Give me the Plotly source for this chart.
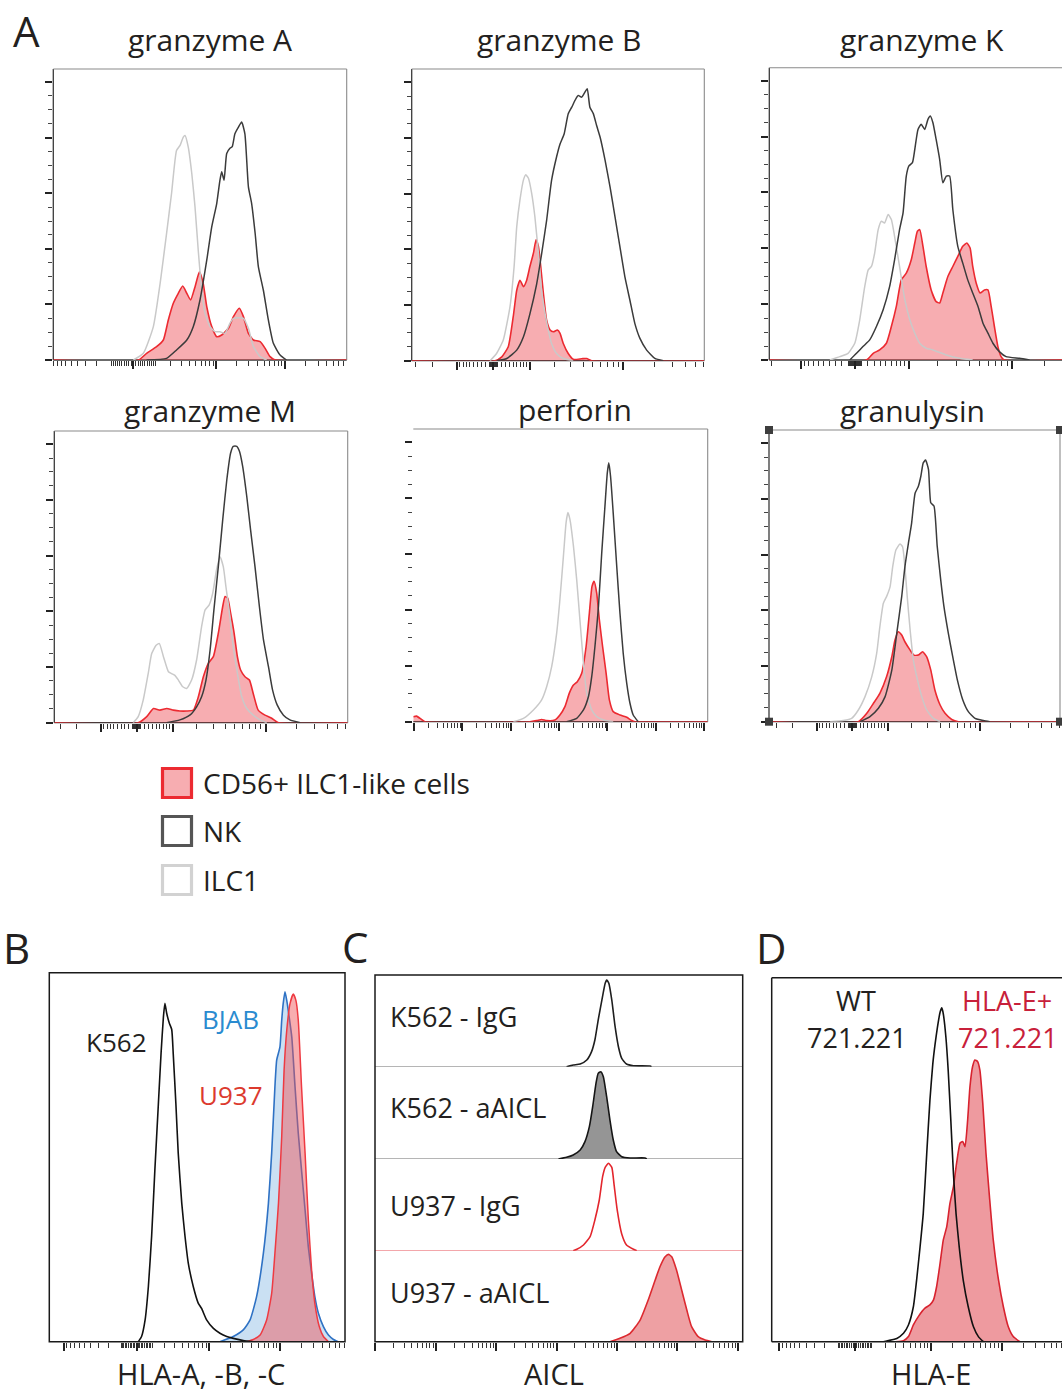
import numpy as np
import plotly.graph_objects as go

W, H = 1062, 1394
FONT = "Open Sans"
TXT = "#231f20"

# ---------------- DATA ----------------
# Panel A: x = display channel (0-100 across plot), y = % of mode
titles_A = ["granzyme A", "granzyme B", "granzyme K", "granzyme M", "perforin", "granulysin"]
legend_labels = ["CD56+ ILC1-like cells", "NK", "ILC1"]

gzmA_ilc1_x = [27.3, 30.7, 34.1, 36.4, 38.6, 40.3, 42.0, 43.2, 44.3, 44.9, 46.0, 47.2, 48.3, 49.4, 50.6, 51.7, 53.4, 55.1, 56.8, 58.5, 60.2, 61.4, 64.8, 66.5, 68.2, 70.5, 72.7]
gzmA_ilc1_y = [0, 2.4, 12.0, 27.5, 45.5, 59.9, 75.4, 77.2, 80.2, 80.8, 76.6, 67.1, 55.1, 39.5, 25.1, 16.8, 12.0, 10.2, 10.2, 9.6, 13.2, 15.0, 15.0, 11.4, 4.8, 1.2, 0]
gzmA_nk_x = [31.8, 38.6, 42.0, 45.5, 47.7, 50.0, 52.3, 54.0, 55.7, 56.8, 57.4, 58.2, 59.1, 60.2, 61.0, 61.9, 63.1, 64.2, 65.3, 66.5, 67.6, 68.8, 69.9, 71.6, 73.3, 75.0, 77.3, 79.5]
gzmA_nk_y = [0, 0.6, 3.6, 7.2, 12.0, 21.6, 35.9, 47.9, 56.3, 64.7, 67.7, 64.7, 74.3, 76.2, 76.8, 81.4, 83.8, 85.6, 81.4, 62.3, 56.3, 45.5, 33.5, 25.1, 14.4, 6.0, 1.8, 0]
gzmA_cd56_x = [29.0, 31.8, 35.2, 37.5, 39.2, 40.9, 42.6, 44.1, 45.5, 46.8, 48.3, 49.8, 51.1, 52.3, 54.0, 55.7, 57.4, 59.7, 61.4, 63.4, 64.8, 66.5, 68.2, 70.5, 72.2, 73.9, 75.6]
gzmA_cd56_y = [0, 2.4, 4.8, 7.2, 14.4, 20.4, 24.0, 26.6, 24.0, 21.6, 26.3, 31.7, 27.5, 19.2, 12.0, 8.4, 9.0, 11.4, 15.6, 18.6, 15.6, 9.6, 7.2, 6.6, 4.2, 1.2, 0]

gzmB_ilc1_x = [26.8, 29.0, 31.3, 33.6, 35.0, 35.9, 37.0, 38.2, 39.0, 39.9, 41.0, 42.1, 43.3, 44.4, 45.6, 46.7, 47.8, 49.5, 51.8, 55.2]
gzmB_ilc1_y = [0, 2.6, 7.4, 19.4, 33.8, 48.1, 57.7, 64.9, 66.7, 65.5, 60.1, 51.7, 38.5, 25.3, 16.8, 10.8, 6.2, 2.6, 0.8, 0]
gzmB_nk_x = [29.0, 32.5, 35.9, 38.2, 40.4, 42.7, 44.4, 46.1, 47.8, 49.5, 50.7, 52.1, 53.5, 54.7, 55.8, 56.9, 58.1, 59.2, 60.0, 60.9, 62.1, 63.2, 64.4, 66.1, 67.8, 69.5, 71.2, 72.9, 74.6, 76.3, 78.0, 80.3, 83.1, 86.0]
gzmB_nk_y = [0, 0.8, 3.8, 8.6, 16.8, 27.5, 38.3, 50.3, 64.7, 73.1, 77.8, 81.4, 88.6, 91.0, 93.4, 95.2, 94.6, 96.4, 97.6, 91.0, 88.6, 84.4, 80.2, 71.9, 62.3, 51.5, 40.7, 29.9, 21.6, 13.2, 8.0, 3.8, 0.8, 0]
gzmB_cd56_x = [28.5, 30.8, 33.0, 34.7, 35.9, 37.0, 38.2, 39.3, 40.4, 41.6, 42.5, 43.3, 44.1, 45.0, 46.1, 47.3, 48.4, 49.8, 50.7, 51.8, 53.5, 55.2, 58.1, 59.8, 61.5]
gzmB_cd56_y = [0, 1.4, 5.0, 15.8, 25.3, 28.9, 26.6, 28.9, 33.8, 38.6, 43.4, 41.0, 33.8, 24.2, 14.6, 11.0, 10.4, 11.0, 9.8, 6.2, 2.6, 0.5, 0.7, 0.8, 0]

gzmK_ilc1_x = [20.7, 24.1, 26.9, 29.2, 30.9, 32.6, 33.8, 34.9, 36.0, 37.2, 38.3, 39.4, 40.6, 41.7, 42.8, 44.5, 46.3, 48.0, 49.7, 51.4, 53.6, 55.9, 60.5, 65.0, 69.5]
gzmK_ilc1_y = [0, 1.2, 2.4, 6.0, 14.4, 26.3, 32.3, 33.5, 38.3, 46.7, 49.7, 49.1, 52.1, 50.3, 44.3, 33.5, 21.6, 14.4, 9.6, 6.0, 4.2, 3.6, 1.8, 0.6, 0]
gzmK_nk_x = [27.5, 29.8, 32.0, 34.3, 36.6, 38.9, 41.1, 42.8, 44.5, 45.7, 46.8, 47.7, 48.9, 49.7, 50.8, 51.9, 53.1, 54.2, 55.0, 55.9, 57.0, 58.2, 59.3, 60.5, 61.6, 62.7, 64.4, 66.1, 67.8, 69.5, 71.3, 73.0, 74.7, 76.4, 78.6, 80.9, 85.5, 88.9]
gzmK_nk_y = [0, 2.4, 4.8, 7.2, 12.0, 18.0, 26.3, 35.9, 46.7, 52.7, 65.9, 69.5, 70.7, 75.4, 82.6, 84.4, 82.6, 86.2, 87.4, 85.0, 79.0, 71.9, 63.5, 65.9, 65.9, 53.9, 40.7, 34.7, 28.7, 24.0, 19.2, 13.2, 9.6, 6.0, 3.0, 1.2, 0.6, 0]
gzmK_cd56_x = [33.2, 35.5, 37.7, 40.0, 41.7, 43.4, 45.1, 46.8, 48.5, 49.7, 50.6, 51.4, 52.5, 53.6, 55.3, 57.0, 58.2, 59.3, 61.0, 62.7, 64.4, 66.1, 67.5, 68.6, 69.5, 70.7, 72.0, 73.5, 74.7, 75.8, 76.9, 78.1, 79.2, 80.3]
gzmK_cd56_y = [0, 2.4, 3.6, 6.0, 12.0, 19.2, 28.7, 31.1, 35.9, 41.9, 46.1, 46.7, 40.7, 33.5, 25.1, 20.9, 20.4, 24.0, 29.9, 33.5, 37.1, 40.7, 41.9, 40.1, 33.5, 27.5, 24.0, 25.1, 25.1, 19.2, 12.0, 4.8, 1.2, 0]

gzmM_ilc1_x = [26.9, 28.6, 30.3, 32.0, 33.2, 34.7, 35.8, 37.2, 38.9, 40.0, 41.1, 42.3, 43.8, 45.1, 46.8, 48.5, 50.2, 51.4, 52.8, 54.0, 55.3, 56.5, 57.6, 58.5, 59.7, 61.0, 62.4, 63.9, 65.6, 67.8, 70.1, 72.4]
gzmM_ilc1_y = [0, 2.2, 8.1, 17.6, 24.8, 27.8, 28.4, 23.7, 18.3, 17.6, 17.0, 15.3, 12.9, 12.3, 15.3, 22.5, 34.5, 40.5, 42.3, 46.5, 54.9, 59.6, 56.0, 48.8, 39.3, 27.3, 17.8, 9.3, 5.1, 2.7, 1.0, 0]
gzmM_nk_x = [38.3, 42.8, 46.3, 48.5, 50.2, 51.7, 53.1, 54.4, 55.9, 57.4, 58.8, 60.1, 61.0, 62.2, 63.1, 64.2, 65.6, 66.9, 68.4, 69.9, 71.3, 73.0, 74.4, 76.0, 78.1, 80.3, 83.8]
gzmM_nk_y = [0, 1.0, 2.8, 5.7, 9.3, 15.3, 26.1, 40.5, 56.0, 72.8, 87.2, 96.8, 99.2, 99.2, 97.4, 92.0, 81.2, 69.2, 56.0, 41.7, 29.7, 20.1, 11.7, 6.3, 2.7, 1.0, 0]
gzmM_cd56_x = [28.6, 31.5, 33.8, 36.0, 38.3, 40.6, 42.8, 45.1, 47.4, 49.1, 50.8, 52.5, 54.2, 55.9, 57.4, 58.2, 59.1, 60.1, 61.3, 62.4, 63.5, 65.0, 66.5, 67.8, 69.5, 71.8, 74.1, 76.4]
gzmM_cd56_y = [0, 2.2, 5.1, 4.5, 5.1, 4.5, 4.2, 4.2, 4.5, 9.3, 16.5, 21.3, 23.7, 32.1, 41.7, 45.3, 44.7, 39.3, 32.1, 23.7, 18.9, 16.5, 15.3, 10.5, 4.5, 2.7, 1.6, 0]

perf_ilc1_x = [34.0, 37.4, 40.8, 43.6, 45.3, 47.0, 48.7, 49.8, 51.0, 51.9, 52.5, 53.2, 54.4, 55.5, 56.6, 57.8, 58.9, 60.6, 62.3, 64.6, 67.9]
perf_ilc1_y = [0, 1.2, 4.2, 7.8, 12.5, 19.7, 31.7, 43.7, 59.3, 71.2, 74.8, 72.4, 62.8, 50.8, 36.4, 20.9, 10.2, 4.2, 1.8, 0.6, 0]
perf_nk_x = [52.1, 55.5, 57.8, 59.5, 60.6, 61.7, 62.9, 64.0, 65.1, 65.9, 66.4, 67.0, 67.9, 69.1, 70.2, 71.3, 72.5, 73.6, 74.7, 76.4]
perf_nk_y = [0, 1.2, 4.2, 9.0, 16.1, 26.9, 41.2, 60.3, 77.1, 89.0, 92.6, 87.8, 74.7, 55.6, 38.8, 24.5, 13.7, 6.6, 2.4, 0]
perf_cd56_x = [0, 1.1, 2.8, 4.0, 39.6, 41.9, 43.6, 45.3, 48.1, 49.8, 51.5, 53.0, 54.4, 55.7, 57.2, 58.7, 59.8, 60.7, 61.4, 62.3, 63.2, 64.3, 65.5, 66.6, 67.9, 70.2, 72.5, 74.2, 75.3]
perf_cd56_y = [1.8, 2.0, 0.8, 0, 0, 0.4, 0.8, 0.4, 0.6, 2.4, 5.4, 10.2, 13.1, 14.3, 17.3, 26.9, 38.8, 48.4, 50.2, 46.0, 36.4, 26.9, 17.3, 7.8, 3.6, 2.4, 1.6, 0.4, 0]

gnly_ilc1_x = [21.0, 25.5, 28.4, 30.7, 33.0, 35.3, 37.0, 38.1, 39.3, 40.4, 41.6, 42.5, 43.6, 45.0, 45.9, 46.7, 47.5, 48.5, 49.6, 51.0, 52.5, 54.2, 56.5, 58.8]
gnly_ilc1_y = [0, 0.4, 1.2, 4.2, 9.0, 16.1, 24.5, 34.1, 42.5, 44.9, 48.4, 55.6, 61.6, 63.8, 62.8, 55.6, 44.9, 32.9, 22.2, 15.1, 9.0, 4.2, 1.2, 0]
gnly_nk_x = [31.3, 34.7, 37.6, 39.9, 42.2, 43.9, 45.6, 46.7, 47.9, 49.0, 50.2, 51.3, 52.2, 53.0, 53.8, 54.8, 55.6, 56.7, 57.8, 59.0, 60.1, 61.6, 63.1, 64.7, 66.6, 68.5, 70.8, 73.7, 75.9]
gnly_nk_y = [0, 1.8, 4.8, 9.0, 18.5, 31.7, 44.9, 55.6, 64.0, 71.2, 82.0, 84.4, 88.2, 92.9, 93.9, 90.6, 78.6, 77.4, 63.0, 51.0, 41.5, 31.9, 23.5, 15.1, 7.8, 3.6, 1.2, 0.4, 0]
gnly_cd56_x = [30.7, 33.6, 35.9, 38.1, 40.4, 42.2, 43.3, 44.4, 45.6, 46.7, 48.5, 49.8, 51.3, 52.8, 54.2, 55.6, 57.0, 58.8, 60.5, 62.8, 65.1]
gnly_cd56_y = [0, 3.0, 6.6, 10.2, 16.1, 23.3, 29.3, 32.3, 31.1, 28.7, 25.7, 23.9, 23.9, 25.1, 23.3, 18.5, 11.4, 6.0, 3.0, 0.8, 0]

# Panel B: HLA-A,-B,-C (y = % of plot height)
B_k562_x = [30.1, 31.2, 32.4, 33.5, 34.6, 35.7, 36.9, 37.8, 38.6, 39.1, 39.7, 40.6, 41.4, 41.9, 42.8, 43.6, 44.8, 45.9, 47.0, 48.7, 50.4, 51.5, 53.2, 55.5, 57.7, 60.0, 62.2, 65.6, 69.0]
B_k562_y = [0, 1.4, 5.9, 14.9, 28.5, 46.5, 64.6, 78.2, 88.1, 91.7, 89.0, 86.3, 84.6, 78.2, 64.6, 51.1, 37.5, 28.5, 21.3, 14.9, 10.4, 9.0, 5.9, 3.6, 2.3, 1.4, 0.9, 0.3, 0]
B_bjab_x = [57.7, 62.2, 65.6, 67.9, 70.1, 72.4, 74.1, 75.2, 76.3, 76.9, 78.0, 78.6, 79.1, 79.7, 80.3, 80.8, 82.0, 83.1, 84.2, 85.3, 86.5, 87.6, 88.7, 89.8, 91.0, 92.7, 94.4, 96.1, 97.7]
B_bjab_y = [0, 1.4, 3.2, 5.9, 12.2, 24.0, 37.5, 51.1, 69.1, 76.3, 79.9, 87.1, 91.6, 94.8, 92.5, 89.8, 82.6, 69.1, 56.5, 46.5, 35.7, 25.7, 18.5, 12.2, 7.7, 4.1, 1.8, 0.6, 0]
B_u937_x = [66.7, 69.0, 71.3, 73.5, 75.2, 76.3, 77.5, 78.6, 79.4, 80.3, 81.4, 82.5, 83.4, 84.2, 85.3, 86.5, 87.6, 88.7, 89.8, 91.3, 92.7, 94.4]
B_u937_y = [0, 0.6, 1.8, 5.9, 13.1, 24.0, 37.5, 55.6, 73.6, 84.4, 91.6, 94.2, 92.5, 87.1, 69.1, 51.1, 33.1, 19.5, 10.4, 4.1, 1.4, 0]

# Panel C: AICL (y = % of row height)
C_labels = ["K562 - IgG", "K562 - aAICL", "U937 - IgG", "U937 - aAICL"]
C_k562_igg_x = [52.1, 53.9, 55.8, 57.6, 58.9, 59.8, 60.7, 61.7, 62.6, 63.0, 63.6, 64.4, 65.3, 66.2, 67.1, 68.4, 70.3, 74.8, 75.2]
C_k562_igg_y = [0, 1.8, 2.9, 7.3, 16.4, 29.1, 50.9, 72.7, 90.9, 94.5, 90.9, 72.7, 43.6, 21.8, 9.1, 2.9, 1.1, 0.7, 0]
C_k562_aicl_x = [49.9, 52.1, 53.9, 55.8, 57.1, 58.3, 59.2, 60.1, 60.7, 61.4, 62.1, 63.0, 63.9, 64.8, 65.7, 67.1, 69.4, 73.4, 73.9]
C_k562_aicl_y = [0, 1.8, 4.3, 9.7, 18.8, 35.0, 56.7, 82.0, 92.8, 94.6, 89.2, 67.5, 42.2, 20.6, 7.9, 2.5, 1.1, 1.1, 0]
C_u937_igg_x = [53.9, 54.9, 56.7, 58.5, 59.8, 61.0, 61.9, 62.6, 63.5, 64.4, 65.0, 65.9, 67.1, 68.4, 70.3, 71.2]
C_u937_igg_y = [0, 1.5, 6.2, 15.3, 33.5, 55.3, 80.7, 90.9, 95.3, 90.9, 72.7, 43.6, 18.2, 6.2, 1.5, 0]
C_u937_aicl_x = [63.9, 66.6, 69.4, 72.1, 74.3, 76.2, 77.5, 78.9, 79.8, 80.7, 82.0, 83.4, 84.8, 86.1, 87.9, 89.8, 91.6]
C_u937_aicl_y = [0, 3.7, 9.2, 23.8, 45.8, 67.8, 82.4, 93.4, 96.0, 93.4, 78.8, 56.8, 34.8, 16.5, 5.5, 1.8, 0]

# Panel D: HLA-E
D_wt_x = [38.5, 40.2, 43.1, 45.4, 47.1, 48.8, 49.9, 51.1, 52.2, 53.4, 54.5, 55.5, 56.3, 57.1, 58.0, 58.6, 59.1, 60.0, 60.8, 61.7, 62.6, 63.5, 64.6, 66.0, 67.7, 69.5, 71.2, 72.9]
D_wt_y = [0, 0.3, 0.9, 2.3, 4.6, 9.6, 16.8, 26.0, 35.2, 51.6, 66.3, 76.4, 81.9, 86.4, 90.5, 91.7, 90.1, 83.7, 74.5, 60.8, 46.2, 35.2, 26.0, 16.8, 9.6, 4.1, 1.4, 0]
D_hlae_x = [42.5, 45.4, 47.1, 48.8, 50.5, 52.8, 54.5, 55.7, 56.8, 58.0, 59.1, 60.3, 61.4, 62.6, 63.7, 64.9, 65.8, 66.6, 67.5, 68.3, 69.2, 70.0, 70.9, 71.7, 72.7, 73.8, 75.0, 76.3, 78.1, 79.8, 81.5, 83.2, 85.5]
D_hlae_y = [0, 0.3, 1.4, 4.6, 6.9, 9.2, 10.1, 11.4, 15.1, 21.5, 27.9, 31.6, 38.0, 42.6, 49.1, 54.6, 55.0, 53.6, 60.9, 70.1, 75.6, 77.4, 77.0, 74.7, 65.6, 51.9, 40.0, 28.1, 17.1, 9.6, 4.1, 1.4, 0]

# ---------------- HELPERS ----------------
def dom_x(a, b):
    return [a / W, min(b / W, 1.0)]

def dom_y(top, bot):
    return [1 - bot / H, 1 - top / H]

def xid(n):
    return "x" if n == 1 else f"x{n}"

def yid(n):
    return "y" if n == 1 else f"y{n}"

def xkey(n):
    return "xaxis" if n == 1 else f"xaxis{n}"

def ykey(n):
    return "yaxis" if n == 1 else f"yaxis{n}"

def biex_ticks(z0, p3, p4):
    a, b = p3 - z0, p4 - z0
    cs = np.logspace(0, 6, 6000)
    ratio = np.arcsinh(1e4 / cs) / np.arcsinh(1e3 / cs)
    c = float(np.interp(b / a, ratio, cs))
    s = a / np.arcsinh(1e3 / c)
    f = lambda v: (z0 + s * np.arcsinh(np.asarray(v, float) / c)).tolist()
    majors = [-1e3, 0, 1e3, 1e4, 1e5]
    minors = [sg * k * 10 ** n for sg in (-1, 1) for n in range(1, 5) for k in range(1, 10)
              if not (k == 1 and n >= 3)]
    return f(majors), f(minors)

def log_ticks(p3, w):
    f = lambda v: (p3 + w * (np.log10(np.asarray(v, float)) - 3)).tolist()
    majors = [10 ** n for n in range(-1, 9)]
    minors = [k * 10 ** n for n in range(-1, 9) for k in range(2, 10)]
    return f(majors), f(minors)

def full_width(x, y):
    x, y = list(x), list(y)
    if x[0] > 0:
        x, y = [0] + x, [0] + y
    if x[-1] < 100:
        x, y = x + [100], y + [0]
    return x, y

fig = go.Figure()
layout_axes = {}
shapes = []
annotations = []

def ann(text, x, y, size, color=TXT, xanchor="center"):
    annotations.append(dict(text=text, x=x / W, y=1 - y / H, xref="paper", yref="paper",
                            showarrow=False, xanchor=xanchor, yanchor="middle",
                            font=dict(family=FONT, size=size, color=color)))

def xaxis_cfg(domain, anchor, ticks, rng=(0, 100)):
    maj, mnr = ticks
    return dict(domain=domain, anchor=anchor, range=list(rng), showgrid=False, zeroline=False,
                showline=False, showticklabels=False, ticks="outside", tickmode="array",
                tickvals=maj, ticklen=8, tickwidth=1.6, tickcolor="#222",
                minor=dict(tickmode="array", tickvals=mnr, ticks="outside", ticklen=5,
                           tickwidth=1.2, tickcolor="#333", showgrid=False),
                fixedrange=True, layer="below traces")

def line_shape(xref, yref, x0, y0, x1, y1, color, width, layer="below"):
    shapes.append(dict(type="line", xref=xref, yref=yref, x0=x0, y0=y0, x1=x1, y1=y1,
                       line=dict(color=color, width=width), layer=layer))

def trace(x, y, xa, ya, color, width, fill=None):
    fig.add_trace(go.Scatter(x=x, y=y, xaxis=xa, yaxis=ya, mode="lines",
                             line=dict(color=color, width=width, shape="spline", smoothing=0.5),
                             fill="tozeroy" if fill else None, fillcolor=fill,
                             hoverinfo="skip", showlegend=False))

# ---------------- PANEL A ----------------
A_boxes = [(53.3, 346.7, 69, 360), (411.7, 704.3, 69, 360.7), (769.3, 1062, 67.7, 360),
           (54.3, 347.7, 431, 722.7), (413.3, 707.7, 429, 721.7), (769, 1060, 430, 721.7)]
A_scales = [("biex", 27.3, 55.5, 79.0), ("biex", 27.9, 40.4, 72.3), ("biex", 29.2, 47.7, 83.0),
            ("biex", 28.1, 40.3, 72.0), ("log", 49.5, 16.42), ("biex", 28.6, 40.8, 72.5)]
A_curves = [
    (gzmA_cd56_x, gzmA_cd56_y, gzmA_ilc1_x, gzmA_ilc1_y, gzmA_nk_x, gzmA_nk_y),
    (gzmB_cd56_x, gzmB_cd56_y, gzmB_ilc1_x, gzmB_ilc1_y, gzmB_nk_x, gzmB_nk_y),
    (gzmK_cd56_x, gzmK_cd56_y, gzmK_ilc1_x, gzmK_ilc1_y, gzmK_nk_x, gzmK_nk_y),
    (gzmM_cd56_x, gzmM_cd56_y, gzmM_ilc1_x, gzmM_ilc1_y, gzmM_nk_x, gzmM_nk_y),
    (perf_cd56_x, perf_cd56_y, perf_ilc1_x, perf_ilc1_y, perf_nk_x, perf_nk_y),
    (gnly_cd56_x, gnly_cd56_y, gnly_ilc1_x, gnly_ilc1_y, gnly_nk_x, gnly_nk_y),
]
A_title_pos = [(210, 40), (559, 40), (921.5, 40), (210, 410), (575, 409), (912.5, 410)]
RED_LINE = "#ec2a31"
RED_FILL = "rgba(237,60,70,0.42)"
NK_COL = "#3b3b3b"
ILC1_COL = "#c9c9c9"
YMAJ = [0, 20, 40, 60, 80, 100]
YMIN = [v for v in range(5, 105, 5) if v % 20]

for i in range(6):
    n = i + 1
    l, r, t, b = A_boxes[i]
    sc = A_scales[i]
    ticks = biex_ticks(*sc[1:]) if sc[0] == "biex" else log_ticks(*sc[1:])
    layout_axes[xkey(n)] = xaxis_cfg(dom_x(l, r), yid(n), ticks)
    layout_axes[ykey(n)] = dict(domain=dom_y(t, b), anchor=xid(n), range=[0, 104.7],
                                showgrid=False, zeroline=False, showline=False,
                                showticklabels=False, ticks="outside", tickmode="array",
                                tickvals=YMAJ, ticklen=7, tickwidth=2.2, tickcolor="#222",
                                minor=dict(tickmode="array", tickvals=YMIN, ticks="outside",
                                           ticklen=4, tickwidth=1, tickcolor="#444"),
                                fixedrange=True, layer="below traces")
    cx, cy, gx, gy, kx, ky = A_curves[i]
    fx, fy = full_width(cx, cy)
    trace(fx, fy, xid(n), yid(n), RED_LINE, 1.6, RED_FILL)
    trace(gx, gy, xid(n), yid(n), ILC1_COL, 1.5)
    trace(kx, ky, xid(n), yid(n), NK_COL, 1.5)
    xr, yr = f"{xid(n)} domain", f"{yid(n)} domain"
    line_shape(xr, yr, 0, 0, 1, 0, "#3a3a3a", 1.3)
    if n != 5:
        line_shape(xr, yr, 0, 0, 0, 1, "#3a3a3a", 1.3)
    line_shape(xr, yr, 0, 1, 1, 1, "#8a8a8a", 1.1)
    if n != 3:
        line_shape(xr, yr, 1, 0, 1, 1, "#8a8a8a", 1.1)
    ann(titles_A[i], *A_title_pos[i], 30)

# selection handles on granulysin frame
for ax_, ay_ in [(0, 0), (0, 1), (1, 0), (1, 1)]:
    shapes.append(dict(type="rect", xref="x6 domain", yref="y6 domain", xsizemode="pixel",
                       ysizemode="pixel", xanchor=ax_, yanchor=ay_, x0=-4, x1=4, y0=-4, y1=4,
                       fillcolor="#3d3d3d", line=dict(width=0), layer="above"))

# legend
leg_rows = [(783, "rgba(237,60,70,0.42)", "#ec2a31"), (831, "white", "#555555"), (880, "white", "#d2d2d2")]
for (yc, fc, lc), lab in zip(leg_rows, legend_labels):
    shapes.append(dict(type="rect", xref="paper", yref="paper", x0=162.5 / W, x1=191.5 / W,
                       y0=1 - (yc + 14.5) / H, y1=1 - (yc - 14.5) / H, fillcolor=fc,
                       line=dict(color=lc, width=3.2), layer="above"))
    ann(lab, 201, yc, 28, xanchor="left")

# ---------------- PANEL B ----------------
bl, br, bt, bb = 49.3, 345, 972.7, 1341.7
layout_axes["xaxis7"] = xaxis_cfg(dom_x(bl, br), "y7", biex_ticks(29.5, 54.1, 78.0))
layout_axes["yaxis7"] = dict(domain=dom_y(bt, bb), anchor="x7", range=[0, 100], visible=False,
                             fixedrange=True)
trace(B_bjab_x, B_bjab_y, "x7", "y7", "#2f72c4", 1.6, "rgba(170,205,235,0.62)")
trace(B_u937_x, B_u937_y, "x7", "y7", "#ee3a42", 1.5, "rgba(240,80,85,0.47)")
trace(B_k562_x, B_k562_y, "x7", "y7", "#111111", 1.6)
shapes.append(dict(type="rect", xref="x7 domain", yref="y7 domain", x0=0, x1=1, y0=0, y1=1,
                   line=dict(color="#1a1a1a", width=1.5), layer="above"))
ann("K562", 116.7, 1041.7, 26)
ann("BJAB", 230.3, 1018.5, 26, color="#2a8bd0")
ann("U937", 230.5, 1095, 26, color="#dc3a2e")
ann("HLA-A, -B, -C", 200.8, 1373, 29)

# ---------------- PANEL C ----------------
cl, cr = 375, 742.7
C_rows = [(975, 1066.7), (1066.7, 1159), (1159, 1250.7), (1250.7, 1341.7)]
layout_axes["xaxis8"] = xaxis_cfg(dom_x(cl, cr), "y11", log_ticks(49.4, 16.43))
for j, (t, b) in enumerate(C_rows):
    layout_axes[f"yaxis{8 + j}"] = dict(domain=dom_y(t, b), anchor="x8", range=[0, 100],
                                        visible=False, fixedrange=True)
C_series = [
    (C_k562_igg_x, C_k562_igg_y, "#1e1e1e", None, "#9c9c9c"),
    (C_k562_aicl_x, C_k562_aicl_y, "#151515", "#959595", "#9c9c9c"),
    (C_u937_igg_x, C_u937_igg_y, "#e3262d", None, "#ef8a8f"),
    (C_u937_aicl_x, C_u937_aicl_y, "#dc2a30", "#eea0a3", "#1a1a1a"),
]
for j, (x, y, lc, fc, basec) in enumerate(C_series):
    ya = f"y{8 + j}"
    fig.add_trace(go.Scatter(x=[0, 100], y=[0, 0], xaxis="x8", yaxis=ya, mode="lines",
                             line=dict(color=basec, width=1.3), hoverinfo="skip", showlegend=False))
    trace(x, y, "x8", ya, lc, 1.6, fc)
    ann(C_labels[j], 388, [1016.3, 1107.5, 1205, 1292][j], 27, xanchor="left")
shapes.append(dict(type="rect", xref="x8 domain", yref="paper", x0=0, x1=1,
                   y0=1 - 1341.7 / H, y1=1 - 975 / H,
                   line=dict(color="#1a1a1a", width=1.5), layer="above"))
ann("AICL", 553.8, 1373, 29)

# ---------------- PANEL D ----------------
dl, dr, dt, db = 771.7, 1062, 977.7, 1341.7
layout_axes["xaxis9"] = xaxis_cfg(dom_x(dl, dr), "y12", biex_ticks(28.7, 54.8, 79.2))
layout_axes["yaxis12"] = dict(domain=dom_y(dt, db), anchor="x9", range=[0, 100], visible=False,
                              fixedrange=True)
trace(D_hlae_x, D_hlae_y, "x9", "y12", "#d8232f", 1.6, "#ee9a9f")
trace(D_wt_x, D_wt_y, "x9", "y12", "#111111", 1.6)
for (x0, y0, x1, y1) in [(0, 0, 1, 0), (0, 0, 0, 1), (0, 1, 1, 1)]:
    line_shape("x9 domain", "y12 domain", x0, y0, x1, y1, "#1a1a1a", 1.5, layer="above")
ann("WT", 856, 1001, 27)
ann("721.221", 857, 1037, 27)
ann("HLA-E+", 1007, 1001, 27, color="#c8203a")
ann("721.221", 1008.3, 1037, 27, color="#c8203a")
ann("HLA-E", 930.8, 1373, 29)

# panel letters
ann("A", 26, 31, 42)
ann("B", 16, 947, 42)
ann("C", 355, 946, 42)
ann("D", 771, 947, 42)

fig.update_layout(width=W, height=H, margin=dict(l=0, r=0, t=0, b=0), autosize=False,
                  paper_bgcolor="white", plot_bgcolor="rgba(0,0,0,0)", showlegend=False,
                  hovermode=False, font=dict(family=FONT, color=TXT),
                  shapes=shapes, annotations=annotations, **layout_axes)

fig.write_html("out.html", config={"displayModeBar": False},
               post_script="document.body.style.margin='0px';document.body.style.overflow='hidden';")
